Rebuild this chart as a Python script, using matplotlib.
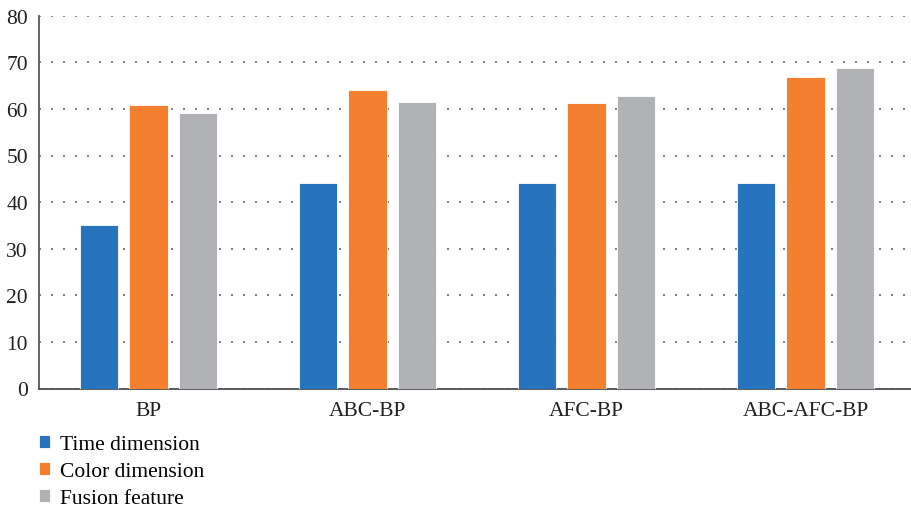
import numpy as np
import matplotlib.pyplot as plt

# data
methods = ['BP', 'ABC-BP', 'AFC-BP', 'ABC-AFC-BP']
time_dim = [35.1, 44.2, 44.1, 44.2]
color_dim = [60.8, 64.0, 61.2, 66.8]
fusion = [59.2, 61.5, 62.8, 68.8]
series_names = ['Time dimension', 'Color dimension', 'Fusion feature']
colors = ['#2773BD', '#F37F2F', '#B1B2B6']

plt.rcParams['font.family'] = ['Liberation Serif', 'DejaVu Serif']

fig = plt.figure(figsize=(9.11, 5.10), dpi=100)
ax = fig.add_axes([39/911, 1 - 389.5/510, (915 - 39)/911, (389.5 - 16.7)/510])

x = np.arange(len(methods))
w = 0.174
step = 0.224
for i, (vals, name) in enumerate(zip([time_dim, color_dim, fusion], series_names)):
    ax.bar(x + (i - 1) * step, vals, width=w, color=colors[i], label=name,
           edgecolor='white', linewidth=0.6, zorder=3)

ax.set_xlim(-0.5, 3.5)
ax.set_ylim(0, 80)
ax.set_yticks(range(0, 81, 10))
ax.set_xticks(x)
ax.set_xticklabels(methods)
ax.tick_params(axis='both', length=0, labelsize=15.5, colors='#231F20')
ax.tick_params(axis='y', pad=8)
ax.tick_params(axis='x', pad=9)

ax.yaxis.grid(True, linestyle=(0, (1.2, 6)), color='#6D6E71', linewidth=1.2, zorder=0)
ax.set_axisbelow(True)
for s in ['top', 'right']:
    ax.spines[s].set_visible(False)
ax.spines['left'].set_color('#58595B')
ax.spines['left'].set_linewidth(1.3)
ax.spines['bottom'].set_color('#4D4D4F')
ax.spines['bottom'].set_linewidth(1.3)

fig.legend(loc='upper left', bbox_to_anchor=(39/911, 1 - 436/510), frameon=False,
           fontsize=15.5, handlelength=0.52, handleheight=0.52, handletextpad=0.45,
           labelspacing=0.37, borderaxespad=0, borderpad=0)

fig.savefig('out.png', dpi=100)
